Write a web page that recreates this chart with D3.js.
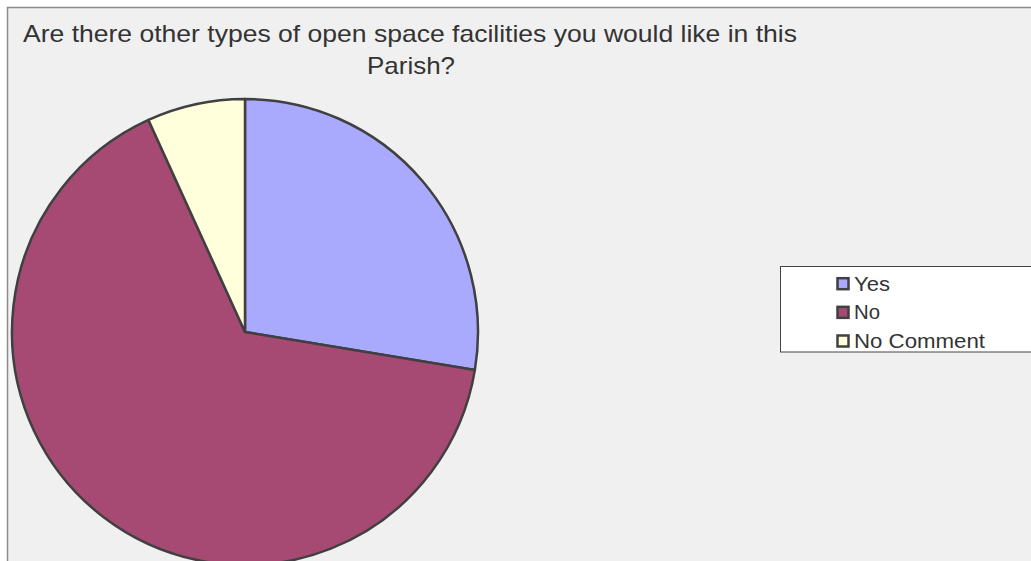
<!DOCTYPE html>
<html><head><meta charset="utf-8">
<script src="https://cdn.jsdelivr.net/npm/d3@7"></script>
<style>html,body{margin:0;padding:0;background:#fff;overflow:hidden}</style>
</head><body>
<svg id="c" width="1031" height="561"></svg>
<script>
const categories = ["Yes", "No", "No Comment"];
const values = [27.6, 65.6, 6.8];
const colors = ["#a9a9fd", "#a64a74", "#ffffdc"];
const titleLines = ["Are there other types of open space facilities you would like in this", "Parish?"];

const svg = d3.select("#c");
svg.append("rect").attr("x", 7.5).attr("y", 7.5).attr("width", 1040).attr("height", 570)
  .attr("fill", "#f0f0f0").attr("stroke", "#8a8a8a").attr("stroke-width", 1.5);

const font = "Liberation Sans, Arial, sans-serif";
svg.append("text").attr("x", 410).attr("y", 42).attr("text-anchor", "middle")
  .attr("font-family", font).attr("font-size", 24).attr("fill", "#333")
  .attr("textLength", 774).attr("lengthAdjust", "spacingAndGlyphs").text(titleLines[0]);
svg.append("text").attr("x", 411).attr("y", 74).attr("text-anchor", "middle")
  .attr("font-family", font).attr("font-size", 24).attr("fill", "#333")
  .attr("textLength", 88).attr("lengthAdjust", "spacingAndGlyphs").text(titleLines[1]);

const cx = 245, cy = 332, r = 233;
const pie = d3.pie().sort(null).value(d => d)(values);
const arc = d3.arc().innerRadius(0).outerRadius(r);
const g = svg.append("g").attr("transform", `translate(${cx},${cy})`);
g.selectAll("path").data(pie).join("path")
  .attr("d", arc).attr("fill", (d, i) => colors[i])
  .attr("stroke", "#404040").attr("stroke-width", 2.5).attr("stroke-linejoin", "round");

const lg = svg.append("g");
lg.append("rect").attr("x", 780.5).attr("y", 266.5).attr("width", 300).attr("height", 85.5)
  .attr("fill", "#fff").attr("stroke", "#444").attr("stroke-width", 1);
const ly = d3.scalePoint().domain(categories).range([283.7, 341]);
const textLens = [36, 26, 131];
categories.forEach((c, i) => {
  lg.append("rect").attr("x", 837.5).attr("y", ly(c) - 5.5).attr("width", 11).attr("height", 11)
    .attr("fill", colors[i]).attr("stroke", "#404040").attr("stroke-width", 2.5);
  lg.append("text").attr("x", 854).attr("y", ly(c) + 7).attr("font-family", font)
    .attr("font-size", 20).attr("fill", "#333")
    .attr("textLength", textLens[i]).attr("lengthAdjust", "spacingAndGlyphs").text(c);
});
</script>
</body></html>
